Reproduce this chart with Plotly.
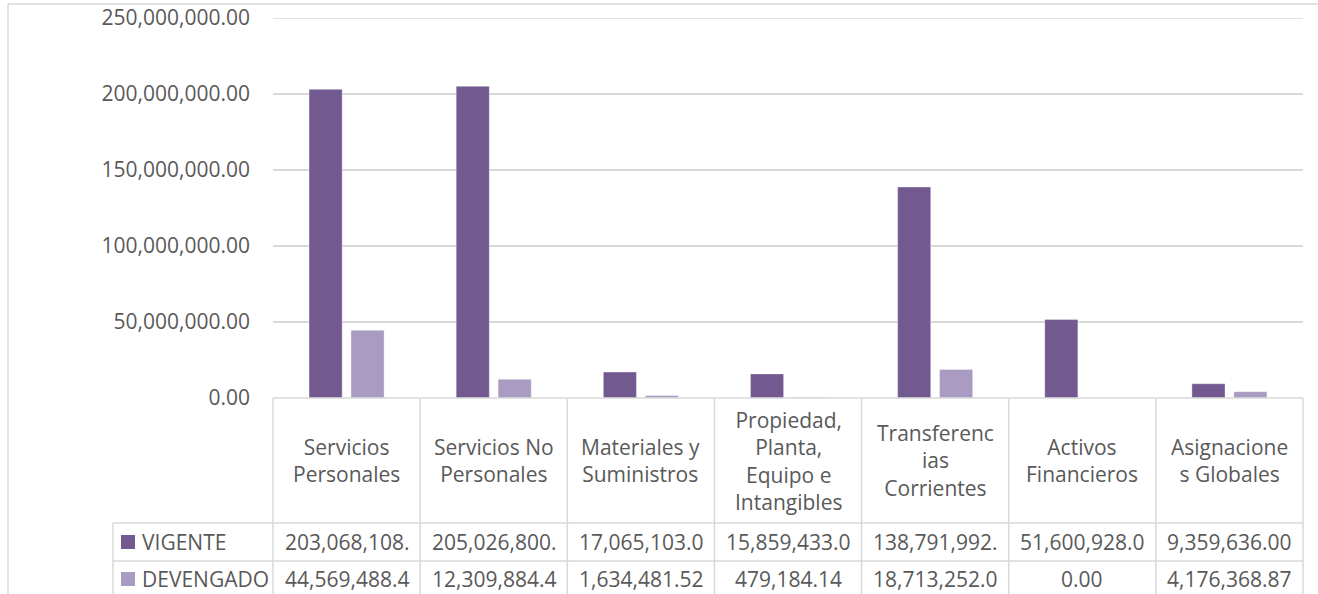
import plotly.graph_objects as go

categories = ["Servicios<br>Personales", "Servicios No<br>Personales", "Materiales y<br>Suministros",
              "Propiedad,<br>Planta,<br>Equipo e<br>Intangibles", "Transferenc<br>ias<br>Corrientes",
              "Activos<br>Financieros", "Asignacione<br>s Globales"]
series_names = ["VIGENTE", "DEVENGADO"]
vigente = [203068108.00, 205026800.00, 17065103.00, 15859433.00, 138791992.00, 51600928.00, 9359636.00]
devengado = [44569488.40, 12309884.40, 1634481.52, 479184.14, 18713252.00, 0.00, 4176368.87]
y_ticks = [0, 50000000, 100000000, 150000000, 200000000, 250000000]

colors = ["#725A91", "#A99BC2"]
FONT = "Open Sans"
TXT = "#595959"
GRID = "#D9D9D9"
FS = 21

W, H = 1318, 594
L, R, T, B = 273, 1303, 18, 398  # plot area in pixels
n = len(categories)

def px(xp):
    return (xp - L) / (R - L)

def py(yp):
    return (B - yp) / (B - T)

fig = go.Figure()
for name, vals, c in zip(series_names, [vigente, devengado], colors):
    fig.add_trace(go.Bar(x=list(range(n)), y=vals, name=name,
                         marker=dict(color=c, line=dict(color="rgba(255,255,255,0.35)", width=1))))

shapes = []
annotations = []
line = dict(color=GRID, width=1.5)

# outer chart border (left and top)
shapes.append(dict(type="line", xref="paper", yref="paper", x0=px(8), x1=px(8), y0=py(4), y1=py(700), line=line))
shapes.append(dict(type="line", xref="paper", yref="paper", x0=px(8), x1=px(1330), y0=py(4), y1=py(4), line=line))

# top gridline (250M) drawn explicitly, to be safe at plot edge
shapes.append(dict(type="line", xref="paper", yref="y", x0=0, x1=1, y0=y_ticks[-1], y1=y_ticks[-1], line=line))

row1_top, row2_top, row3_top, table_bot = 398, 523, 561, 600
leg_left = 113

shapes.append(dict(type="line", xref="paper", yref="paper", x0=0, x1=1, y0=py(row1_top), y1=py(row1_top), line=line))
for yy in [row2_top, row3_top, table_bot]:
    shapes.append(dict(type="line", xref="paper", yref="paper", x0=px(leg_left), x1=1, y0=py(yy), y1=py(yy), line=line))
for i in range(n + 1):
    shapes.append(dict(type="line", xref="paper", yref="paper", x0=i / n, x1=i / n, y0=py(row1_top), y1=py(table_bot), line=line))
shapes.append(dict(type="line", xref="paper", yref="paper", x0=px(leg_left), x1=px(leg_left), y0=py(row2_top), y1=py(table_bot), line=line))

for i, cat in enumerate(categories):
    annotations.append(dict(x=(i + 0.5) / n, y=py((row1_top + row2_top) / 2), xref="paper", yref="paper",
                            text=cat, showarrow=False, xanchor="center", yanchor="middle",
                            font=dict(family=FONT, size=FS, color=TXT)))

row_centers = [542, 579]
for name, vals, c, yc in zip(series_names, [vigente, devengado], colors, row_centers):
    shapes.append(dict(type="rect", xref="paper", yref="paper", x0=px(121), x1=px(135), y0=py(yc - 7), y1=py(yc + 7),
                       fillcolor=c, line=dict(width=0)))
    annotations.append(dict(x=px(140), y=py(yc), xref="paper", yref="paper", text=name, showarrow=False,
                            xanchor="left", yanchor="middle", font=dict(family=FONT, size=FS, color=TXT)))
    for i, v in enumerate(vals):
        label = f"{v:,.2f}"[:12]
        annotations.append(dict(x=(i + 0.5) / n, y=py(yc), xref="paper", yref="paper", text=label, showarrow=False,
                                xanchor="center", yanchor="middle", font=dict(family=FONT, size=FS, color=TXT)))

fig.update_layout(
    width=W, height=H,
    margin=dict(l=L, r=W - R, t=T, b=H - B, pad=0, autoexpand=False),
    paper_bgcolor="white", plot_bgcolor="white",
    barmode="group", bargap=0.43, bargroupgap=0.21,
    showlegend=False,
    shapes=shapes, annotations=annotations,
    font=dict(family=FONT, size=FS, color=TXT),
    xaxis=dict(range=[-0.5, n - 0.5], showticklabels=False, showgrid=False, zeroline=False, showline=False, ticks="",
               automargin=False),
    yaxis=dict(range=[0, 250000000], tickvals=y_ticks, tickformat=",.2f", showgrid=True, gridcolor=GRID, gridwidth=1.5,
               zeroline=False, showline=False, ticks="", ticklabelstandoff=22, ticklabeloverflow="allow",
               automargin=False, tickfont=dict(family=FONT, size=FS, color=TXT)),
)

fig.write_html("out.html", config={"displayModeBar": False},
               post_script="document.body.style.margin='0';document.body.style.overflow='hidden';")
